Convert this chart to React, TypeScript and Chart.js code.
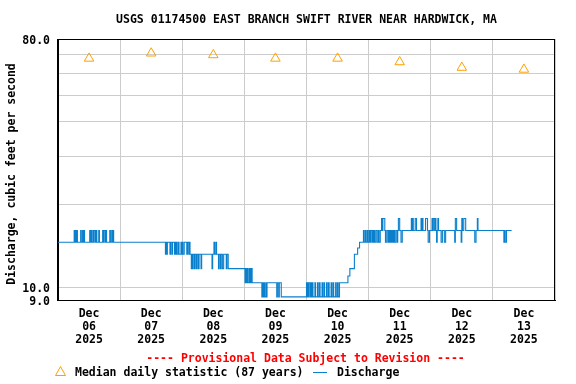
import React, { useEffect, useRef } from 'react';
import { Chart, registerables } from 'chart.js';

Chart.register(...registerables);

// ---- text ----
const TITLE = 'USGS 01174500 EAST BRANCH SWIFT RIVER NEAR HARDWICK, MA';
const Y_TITLE = 'Discharge, cubic feet per second';
const NOTE = '---- Provisional Data Subject to Revision ----';
const MEDIAN_LABEL = 'Median daily statistic (87 years)';
const DISCHARGE_LABEL = 'Discharge';

// ---- x axis (hours since Dec 06 2025 00:00) ----
const monthLabel = 'Dec';
const yearLabel = '2025';
const dayLabels = ['06', '07', '08', '09', '10', '11', '12', '13'];

// ---- y axis ----
const yTickValues = [9, 10, 20, 30, 40, 50, 60, 70, 80];
const yLabeledValues = [9, 10, 80];

// ---- median daily statistic (one per day, at noon) ----
const medianHours = [12, 36, 60, 84, 108, 132, 156, 180];
const medianCfs = [68, 71, 70, 68, 68, 66, 63, 62];

// ---- discharge: change points [hour, cfs] (value holds until next point) ----
const dischargeSteps: [number, number][] = [
  [0, 14.6],
  [6.25, 16.1], [6.5, 14.6], [6.75, 16.1], [7.0, 14.6], [7.25, 16.1], [7.5, 14.6],
  [8.75, 16.1], [9.0, 14.6],
  [9.5, 16.1], [9.75, 14.6], [10.0, 16.1], [10.25, 14.6],
  [12.25, 16.1], [12.5, 14.6], [12.75, 16.1], [13.0, 14.6],
  [13.5, 16.1], [13.75, 14.6], [14.0, 16.1], [14.5, 14.6], [14.75, 16.1], [15.0, 14.6],
  [15.75, 16.1], [16.0, 14.6],
  [17.25, 16.1], [17.5, 14.6], [17.75, 16.1], [18.25, 14.6], [18.5, 16.1], [18.75, 14.6],
  [20.0, 16.1], [20.25, 14.6], [20.75, 16.1], [21.0, 14.6], [21.25, 16.1], [21.5, 14.6],
  [41.5, 13.2], [41.75, 14.6], [42.0, 13.2], [42.25, 14.6], [43.25, 13.2], [43.5, 14.6],
  [44.0, 13.2], [44.25, 14.6], [45.0, 13.2], [45.25, 14.6], [45.5, 13.2], [45.75, 14.6],
  [46.0, 13.2], [46.5, 14.6], [46.75, 13.2], [47.5, 14.6], [47.75, 13.2], [48.0, 14.6],
  [48.25, 13.2], [48.75, 14.6], [49.75, 13.2], [50.0, 14.6], [50.5, 13.2], [50.75, 14.6],
  [51.0, 13.2], [51.5, 11.7], [51.75, 13.2], [52.0, 11.7], [52.25, 13.2],
  [52.75, 11.7], [53.0, 13.2], [53.5, 11.7], [53.75, 13.2], [54.25, 11.7], [54.5, 13.2],
  [55.25, 11.7], [55.5, 13.2], [59.5, 11.7], [59.75, 13.2], [60.25, 14.6], [60.5, 13.2],
  [61.0, 14.6], [61.25, 13.2], [62.0, 11.7], [62.25, 13.2], [62.75, 11.7], [63.0, 13.2],
  [63.5, 11.7], [64.0, 13.2], [65.0, 11.7], [65.25, 13.2], [65.75, 11.7],
  [72.25, 10.4], [72.5, 11.7], [72.75, 10.4], [73.0, 11.7], [73.25, 10.4], [73.75, 11.7],
  [74.0, 10.4], [74.25, 11.7], [74.5, 10.4], [74.75, 11.7], [75.0, 10.4],
  [78.75, 9.24], [79.0, 10.4], [79.25, 9.24], [79.5, 10.4], [79.75, 9.24], [80.25, 10.4],
  [80.5, 9.24], [80.75, 10.4],
  [84.5, 9.24], [84.75, 10.4], [85.25, 9.24], [85.5, 10.4], [86.25, 9.24],
  [96.0, 10.4], [96.25, 9.24], [96.5, 10.4], [96.75, 9.24], [97.0, 10.4], [97.5, 9.24],
  [97.75, 10.4], [98.0, 9.24], [98.25, 10.4], [98.5, 9.24],
  [99.25, 10.4], [99.5, 9.24], [100.25, 10.4], [100.5, 9.24], [101.0, 10.4], [101.25, 9.24],
  [102.0, 10.4], [102.25, 9.24], [102.75, 10.4], [103.0, 9.24], [103.75, 10.4], [104.0, 9.24],
  [104.5, 10.4], [104.75, 9.24], [105.5, 10.4], [105.75, 9.24], [106.25, 10.4], [106.5, 9.24],
  [107.25, 10.4], [107.5, 9.24], [108.0, 10.4], [108.25, 9.24], [108.75, 10.4],
  [112.0, 11.0], [112.75, 11.7], [114.5, 13.2], [115.75, 13.9], [116.5, 14.6],
  [118.0, 16.1], [118.25, 14.6], [118.75, 16.1], [119.0, 14.6], [119.5, 16.1], [119.75, 14.6],
  [120.25, 16.1], [120.5, 14.6], [120.75, 16.1], [121.25, 14.6], [121.5, 16.1], [121.75, 14.6],
  [122.0, 16.1], [122.25, 14.6], [122.75, 16.1], [123.25, 14.6], [123.75, 16.1], [124.0, 14.6],
  [124.5, 16.1], [125.0, 17.8], [125.25, 16.1], [125.5, 17.8], [126.25, 16.1], [126.5, 14.6],
  [127.0, 16.1], [127.5, 14.6], [127.75, 16.1], [128.0, 14.6], [128.25, 16.1], [128.5, 14.6],
  [128.75, 16.1], [129.0, 14.6], [129.25, 16.1], [129.5, 14.6], [129.75, 16.1], [130.0, 14.6],
  [130.5, 16.1], [131.0, 14.6], [131.25, 16.1], [131.5, 17.8], [132.0, 16.1], [132.5, 14.6],
  [133.0, 16.1],
  [136.5, 17.8], [136.75, 16.1], [137.0, 17.8], [137.25, 16.1], [138.0, 17.8], [138.5, 16.1],
  [140.25, 17.8], [140.5, 16.1], [140.75, 17.8], [141.0, 16.1], [142.0, 17.8], [142.75, 16.1],
  [143.0, 14.6], [143.5, 16.1], [144.5, 17.8], [144.75, 16.1], [145.0, 17.8], [145.5, 16.1],
  [145.75, 17.8], [146.0, 16.1], [146.25, 14.6], [146.5, 16.1], [146.75, 17.8], [147.0, 16.1],
  [148.0, 14.6], [148.5, 16.1], [149.25, 14.6], [149.75, 16.1],
  [153.25, 14.6], [153.5, 17.8], [154.0, 16.1], [155.75, 14.6], [156.0, 17.8], [156.25, 16.1],
  [156.75, 17.8], [157.5, 16.1], [161.0, 14.6], [161.5, 16.1], [162.0, 17.8], [162.25, 16.1],
  [172.25, 14.6], [172.5, 16.1], [172.75, 14.6], [173.25, 16.1], [175.25, 16.1],
];

const BLUE = '#0a80cc';
const ORANGE = '#ffa000';
const GRID = '#cccccc';
const FONT_FAMILY = '"DejaVu Sans Mono", "Liberation Mono", monospace';
const FONT_SIZE = 11.5;
const FONT = `bold ${FONT_SIZE}px ${FONT_FAMILY}`;

const textPlugin = {
  id: 'usgsText',
  afterDraw(chart: any) {
    const { ctx, chartArea: a } = chart;
    ctx.save();
    // plot frame
    ctx.strokeStyle = '#000';
    ctx.lineWidth = 1;
    ctx.strokeRect(Math.round(a.left) - 0.5, Math.round(a.top) + 0.5, Math.round(a.right - a.left), Math.round(a.bottom - a.top));

    ctx.font = FONT;
    ctx.textBaseline = 'middle';
    // title
    ctx.fillStyle = '#000';
    ctx.textAlign = 'center';
    ctx.fillText(TITLE, (a.left + a.right) / 2, 20);
    // y title
    ctx.save();
    ctx.translate(12, 174);
    ctx.rotate(-Math.PI / 2);
    ctx.fillText(Y_TITLE, 0, 0);
    ctx.restore();
    // provisional note
    ctx.fillStyle = '#ff0000';
    ctx.fillText(NOTE, 305.5, 359);
    // legend
    ctx.textAlign = 'left';
    ctx.fillStyle = '#000';
    ctx.fillText(MEDIAN_LABEL, 75, 373);
    ctx.fillText(DISCHARGE_LABEL, 337, 373);
    // legend triangle
    ctx.strokeStyle = ORANGE;
    ctx.beginPath();
    ctx.moveTo(60.5, 366.5);
    ctx.lineTo(65.5, 375.5);
    ctx.lineTo(55.5, 375.5);
    ctx.closePath();
    ctx.stroke();
    // legend line
    ctx.strokeStyle = BLUE;
    ctx.beginPath();
    ctx.moveTo(313, 372.5);
    ctx.lineTo(327, 372.5);
    ctx.stroke();
    ctx.restore();
  },
};

export default function App() {
  const canvasRef = useRef<HTMLCanvasElement | null>(null);

  useEffect(() => {
    document.body.style.margin = '0';
    const canvas = canvasRef.current;
    if (!canvas) return;

    const xTickValues: number[] = [];
    dayLabels.forEach((_, i) => {
      xTickValues.push(i * 24, i * 24 + 12);
    });
    xTickValues.push(dayLabels.length * 24);

    const chart = new Chart(canvas, {
      type: 'line',
      data: {
        datasets: [
          {
            label: MEDIAN_LABEL,
            data: medianHours.map((h, i) => ({ x: h, y: medianCfs[i] })),
            showLine: false,
            pointStyle: 'triangle',
            pointRadius: 5.5,
            pointBorderWidth: 1,
            pointBorderColor: ORANGE,
            pointBackgroundColor: 'rgba(0,0,0,0)',
            borderColor: ORANGE,
            order: 1,
          },
          {
            label: DISCHARGE_LABEL,
            data: dischargeSteps.map(([h, v]) => ({ x: h, y: v })),
            stepped: true,
            borderColor: BLUE,
            borderWidth: 1.1,
            pointRadius: 0,
            fill: false,
            order: 2,
          },
        ],
      },
      options: {
        responsive: false,
        animation: false,
        events: [],
        layout: { padding: { top: 39, right: 21, left: 0, bottom: 0 } },
        plugins: {
          legend: { display: false },
          tooltip: { enabled: false },
          title: { display: false },
        },
        scales: {
          x: {
            type: 'linear',
            min: 0,
            max: dayLabels.length * 24,
            afterFit: (s: any) => { s.height = 84; },
            afterBuildTicks: (s: any) => { s.ticks = xTickValues.map((v) => ({ value: v })); },
            ticks: {
              autoSkip: false,
              maxRotation: 0,
              minRotation: 0,
              padding: 8,
              color: '#000',
              font: { family: FONT_FAMILY, size: FONT_SIZE, weight: 'bold', lineHeight: 13 / FONT_SIZE },
              callback: (value: any) => {
                const v = Number(value);
                if (v % 24 !== 12) return '';
                return [monthLabel, dayLabels[Math.floor(v / 24)], yearLabel];
              },
            },
            grid: {
              drawTicks: false,
              lineWidth: 1,
              color: (ctx: any) => (ctx.tick && ctx.tick.value % 24 === 0 ? GRID : 'rgba(0,0,0,0)'),
            },
            border: { display: true, color: '#000', width: 1 },
          },
          y: {
            type: 'logarithmic',
            min: 9,
            max: 80,
            afterFit: (s: any) => { s.width = 58; },
            afterBuildTicks: (s: any) => { s.ticks = yTickValues.map((v) => ({ value: v })); },
            ticks: {
              autoSkip: false,
              padding: 8,
              labelOffset: 2,
              color: '#000',
              font: { family: FONT_FAMILY, size: FONT_SIZE, weight: 'bold' },
              callback: (value: any) => {
                const v = Number(value);
                return yLabeledValues.includes(v) ? v.toFixed(1) : '';
              },
            },
            grid: { drawTicks: false, lineWidth: 1, color: GRID },
            border: { display: true, color: '#000', width: 1 },
          },
        },
      } as any,
      plugins: [textPlugin],
    });

    return () => chart.destroy();
  }, []);

  return (
    <div style={{ position: 'absolute', left: 0, top: 0, width: 576, height: 384 }}>
      <canvas ref={canvasRef} width={576} height={384} style={{ display: 'block' }} />
    </div>
  );
}
